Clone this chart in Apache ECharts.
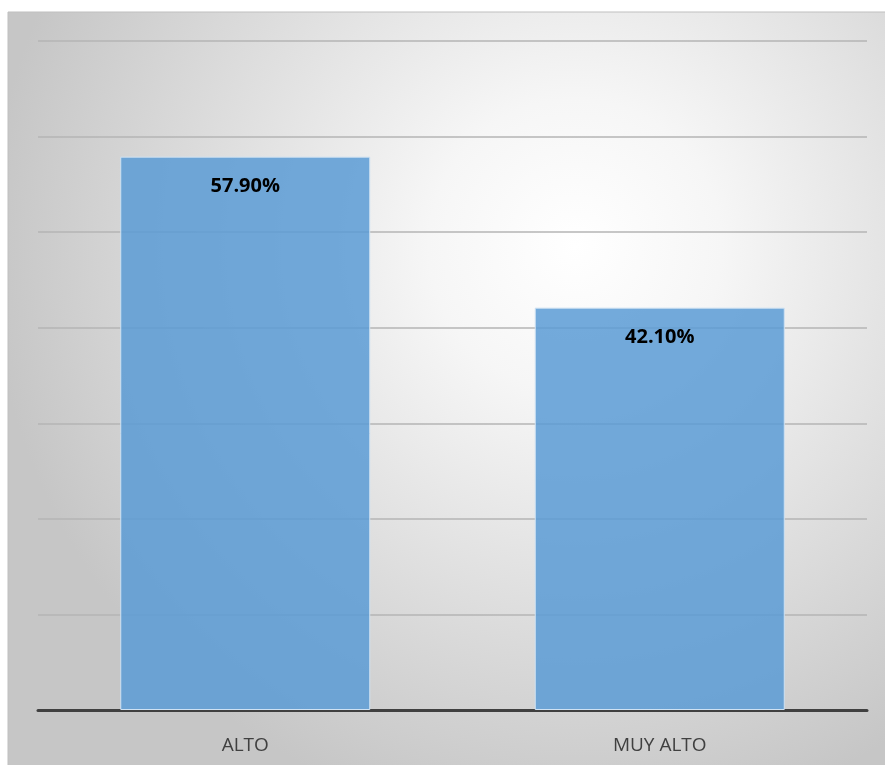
<!DOCTYPE html>
<html><head><meta charset="utf-8">
<script src="https://cdn.jsdelivr.net/npm/echarts@6/dist/echarts.min.js"></script>
<style>html,body{margin:0;padding:0;background:#fff}#c{width:885px;height:765px}</style>
</head><body><div id="c"></div>
<script>
const categories = ['ALTO', 'MUY ALTO'];
const values = [57.9, 42.1];
const yMin = 0, yMax = 70, yInterval = 10;

const chart = echarts.init(document.getElementById('c'), null, {renderer: 'canvas'});
chart.setOption({
  animation: false,
  backgroundColor: '#ffffff',
  graphic: [{
    type: 'rect', z: -10, silent: true,
    shape: {x: 8, y: 12, width: 900, height: 780},
    style: {
      fill: new echarts.graphic.RadialGradient(0.63, 0.3, 0.75, [
        {offset: 0, color: '#ffffff'},
        {offset: 0.25, color: '#f6f6f6'},
        {offset: 1, color: '#c6c6c6'}
      ]),
      stroke: '#bfbfbf', lineWidth: 1
    }
  }],
  grid: {left: 38, right: 18, top: 41, bottom: 55, containLabel: false},
  xAxis: {
    type: 'category', data: categories,
    axisLine: {show: true, lineStyle: {color: '#404040', width: 3}},
    axisTick: {show: false},
    axisLabel: {color: '#404040', fontSize: 19, fontFamily: 'Open Sans', margin: 26}
  },
  yAxis: {
    type: 'value', min: yMin, max: yMax, interval: yInterval,
    axisLabel: {show: false}, axisLine: {show: false}, axisTick: {show: false},
    splitLine: {lineStyle: {color: '#b5b5b5', width: 1.5}}
  },
  series: [{
    type: 'bar', data: values, barWidth: 250,
    itemStyle: {color: 'rgba(91,155,213,0.85)', borderColor: '#cfe2f3', borderWidth: 1},
    label: {
      show: true, position: 'insideTop', distance: 20,
      formatter: p => p.value.toFixed(2) + '%',
      color: '#000', fontWeight: 'bold', fontSize: 20, fontFamily: 'Open Sans'
    }
  }]
});
</script></body></html>
